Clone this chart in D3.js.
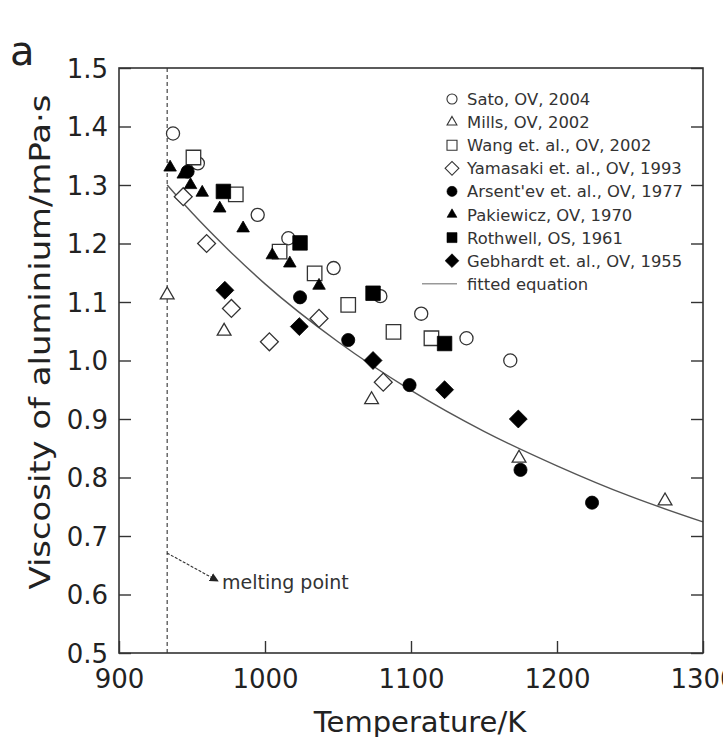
<!DOCTYPE html>
<html>
<head>
<meta charset="utf-8">
<script src="https://cdn.jsdelivr.net/npm/d3@7"></script>
<style>
  body { margin: 0; background: #fff; }
  svg { display: block; font-family: "DejaVu Sans", sans-serif; }
</style>
</head>
<body>
<svg width="723" height="737"></svg>
<script>
// ---- Data (temperature K, viscosity mPa·s)
const sato      = [[937, 1.388], [954, 1.337], [995, 1.249], [1016, 1.209], [1047, 1.158], [1079, 1.11], [1107, 1.08], [1138, 1.038], [1168, 1.0]];
const mills     = [[933, 1.112], [972, 1.05], [1073, 0.933], [1174, 0.833], [1274, 0.76]];
const wang      = [[951, 1.347], [980, 1.284], [1010, 1.186], [1034, 1.149], [1057, 1.095], [1088, 1.049], [1114, 1.038]];
const yamasaki  = [[944, 1.28], [960, 1.2], [977, 1.089], [1003, 1.032], [1037, 1.072], [1081, 0.963]];
const arsentev  = [[947, 1.323], [1024, 1.108], [1057, 1.035], [1099, 0.958], [1175, 0.813], [1224, 0.757]];
const pakiewicz = [[935, 1.33], [944, 1.318], [949, 1.3], [957, 1.287], [969, 1.26], [985, 1.226], [1005, 1.18], [1017, 1.166], [1037, 1.128]];
const rothwell  = [[971.5, 1.289], [1024, 1.201], [1074, 1.115], [1123, 1.029]];
const gebhardt  = [[972.5, 1.12], [1023.5, 1.058], [1074, 1.0], [1123, 0.95], [1173.5, 0.9]];

// fitted equation
const fitT = [933, 950, 975, 1000, 1050, 1100, 1150, 1200, 1250, 1300];
const fitV = [1.300, 1.2525, 1.189, 1.131, 1.032, 0.949, 0.879, 0.820, 0.768, 0.724];

const meltingPoint = 933;
const xTicks = [900, 1000, 1100, 1200, 1300];
const yTicks = [0.5, 0.6, 0.7, 0.8, 0.9, 1.0, 1.1, 1.2, 1.3, 1.4, 1.5];

const legendLabels = [
  'Sato, OV, 2004', 'Mills, OV, 2002', 'Wang et. al., OV, 2002', 'Yamasaki et. al., OV, 1993',
  "Arsent'ev et. al., OV, 1977", 'Pakiewicz, OV, 1970', 'Rothwell, OS, 1961', 'Gebhardt et. al., OV, 1955'
];

const series = [
  { data: sato,      shape: 'circle',   filled: false },
  { data: mills,     shape: 'triangle', filled: false },
  { data: wang,      shape: 'square',   filled: false },
  { data: yamasaki,  shape: 'diamond',  filled: false },
  { data: arsentev,  shape: 'circle',   filled: true },
  { data: pakiewicz, shape: 'triangle', filled: true },
  { data: rothwell,  shape: 'square',   filled: true },
  { data: gebhardt,  shape: 'diamond',  filled: true }
];

const svg = d3.select('svg');
const margens = { left: 119, right: 20, top: 68, bottom: 84 };
const width = +svg.attr('width');
const height = +svg.attr('height');
const innerWidth = width - margens.left - margens.right;
const innerHeight = height - margens.top - margens.bottom;

const x = d3.scaleLinear().domain([900, 1300]).range([0, innerWidth]);
const y = d3.scaleLinear().domain([0.5, 1.5]).range([innerHeight, 0]);

const g = svg.append('g').attr('transform', `translate(${margens.left},${margens.top})`);

// symbol paths (big = in plot, small = legend)
function symbolPath(shape, filled, big) {
  const sizes = big
    ? { circle: 135, triangle: filled ? 68 : 82, square: 210, diamond: 160 }
    : { circle: 80, triangle: 42, square: 100, diamond: 95 };
  const types = { circle: d3.symbolCircle, triangle: d3.symbolTriangle, square: d3.symbolSquare, diamond: d3.symbolSquare };
  return d3.symbol().type(types[shape]).size(sizes[shape])();
}

// ---- Fitted line
g.append('path')
  .datum(fitT.map((t, i) => [t, fitV[i]]))
  .attr('fill', 'none')
  .attr('stroke', '#555')
  .attr('stroke-width', 1.4)
  .attr('d', d3.line().x(d => x(d[0])).y(d => y(d[1])).curve(d3.curveMonotoneX));

// ---- Melting point dashed line
g.append('line')
  .attr('x1', x(meltingPoint)).attr('x2', x(meltingPoint))
  .attr('y1', 0).attr('y2', innerHeight)
  .attr('stroke', '#444').attr('stroke-width', 1.2)
  .attr('stroke-dasharray', '4,3');

// ---- Markers
series.forEach(s => {
  g.append('g').selectAll('path')
    .data(s.data)
    .enter()
    .append('path')
    .attr('d', symbolPath(s.shape, s.filled, true))
    .attr('transform', d => `translate(${x(d[0])},${y(d[1])})` + (s.shape === 'diamond' ? ' rotate(45)' : ''))
    .attr('fill', s.filled ? '#000' : '#fff')
    .attr('stroke', s.filled ? '#000' : '#333')
    .attr('stroke-width', s.filled ? 0.8 : 1.3);
});

// ---- Axes (ticks inward)
const axisColor = '#333';
g.append('rect')
  .attr('width', innerWidth).attr('height', innerHeight)
  .attr('fill', 'none').attr('stroke', axisColor).attr('stroke-width', 1.6);

const eixoY = g.append('g').attr('class', 'eixo-y')
  .call(d3.axisLeft(y).tickValues(yTicks).tickSize(-12).tickPadding(11).tickFormat(d3.format('.1f')));
const eixoYr = g.append('g').attr('transform', `translate(${innerWidth},0)`)
  .call(d3.axisRight(y).tickValues(yTicks).tickSize(-12));
eixoYr.selectAll('text').remove();
const eixoX = g.append('g').attr('class', 'eixo-x').attr('transform', `translate(0,${innerHeight})`)
  .call(d3.axisBottom(x).tickValues(xTicks).tickSize(-12).tickPadding(16).tickFormat(d3.format('d')));

[eixoY, eixoYr, eixoX].forEach(a => {
  a.select('.domain').remove();
  a.attr('font-size', null).attr('font-family', null);
  a.selectAll('.tick line').attr('stroke', axisColor).attr('stroke-width', 1.4);
  a.selectAll('text').attr('fill', '#222').style('font-size', '26px').style('font-family', '"DejaVu Sans", sans-serif');
});
eixoY.selectAll('.tick text').attr('dy', '9.4');
eixoX.selectAll('.tick text').attr('dy', '18.5');

// ---- Axis titles
g.append('text')
  .attr('x', innerWidth / 2 + 9)
  .attr('y', innerHeight + 79)
  .attr('text-anchor', 'middle')
  .attr('fill', '#222')
  .style('font-size', '29px')
  .text('Temperature/K');

g.append('text')
  .attr('transform', `translate(${50 - margens.left},${342 - margens.top}) rotate(-90)`)
  .attr('text-anchor', 'middle')
  .attr('fill', '#222')
  .attr('textLength', 495)
  .attr('lengthAdjust', 'spacingAndGlyphs')
  .style('font-size', '28px')
  .text('Viscosity of aluminium/mPa·s');

svg.append('text')
  .attr('x', 10).attr('y', 65)
  .attr('fill', '#222')
  .style('font-size', '40px')
  .text('a');

// ---- Melting point arrow
svg.append('defs').append('marker')
  .attr('id', 'seta')
  .attr('viewBox', '0 0 10 10')
  .attr('refX', 9).attr('refY', 5)
  .attr('markerWidth', 9).attr('markerHeight', 9)
  .attr('markerUnits', 'userSpaceOnUse')
  .attr('orient', 'auto')
  .append('path').attr('d', 'M0,0 L10,5 L0,10 Z').attr('fill', '#222');

svg.append('line')
  .attr('x1', 167).attr('y1', 553)
  .attr('x2', 218).attr('y2', 581)
  .attr('stroke', '#333').attr('stroke-width', 1.1)
  .attr('stroke-dasharray', '3,1.5')
  .attr('marker-end', 'url(#seta)');

svg.append('text')
  .attr('x', 222).attr('y', 589)
  .attr('fill', '#333')
  .style('font-size', '19px')
  .text('melting point');

// ---- Legend
const legend = svg.append('g').attr('transform', 'translate(452,99)');
const rowH = 23.1;
series.forEach((s, i) => {
  const row = legend.append('g').attr('transform', `translate(0,${i * rowH})`);
  row.append('path')
    .attr('d', symbolPath(s.shape, s.filled, false))
    .attr('transform', s.shape === 'diamond' ? 'rotate(45)' : null)
    .attr('fill', s.filled ? '#000' : '#fff')
    .attr('stroke', s.filled ? '#000' : '#333')
    .attr('stroke-width', s.filled ? 0.6 : 1.1);
  row.append('text')
    .attr('x', 15).attr('y', 6)
    .attr('fill', '#333')
    .style('font-size', '16.4px')
    .text(legendLabels[i]);
});
const fitRow = legend.append('g').attr('transform', `translate(0,${8 * rowH})`);
fitRow.append('line')
  .attr('x1', -30).attr('x2', 5).attr('y1', 0).attr('y2', 0)
  .attr('stroke', '#999').attr('stroke-width', 1.6);
fitRow.append('text')
  .attr('x', 15).attr('y', 6)
  .attr('fill', '#333')
  .style('font-size', '16.4px')
  .text('fitted equation');
</script>
</body>
</html>
